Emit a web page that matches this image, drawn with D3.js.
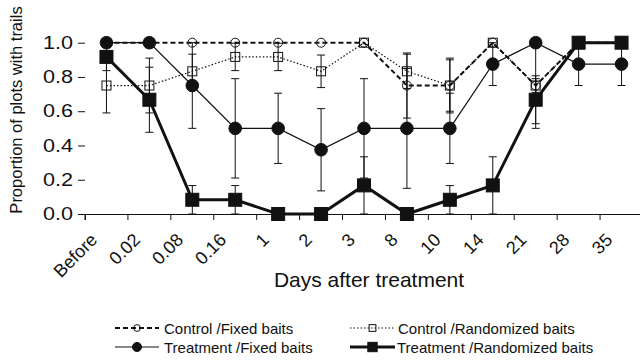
<html>
<head>
<meta charset="utf-8">
<title>Proportion of plots with trails</title>
<style>
  body { margin: 0; background: #fff; }
  svg text { font-family: "Liberation Sans", Arial, Helvetica, sans-serif; fill: #111; }
</style>
</head>
<body>
<div id="chart"></div>
<script src="https://d3js.org/d3.v7.min.js"></script>
<script>
// categories (days after treatment)
let categories = ["Before", "0.02", "0.08", "0.16", "1", "2", "3", "8", "10", "14", "21", "28", "35"];

// series means and error bars
let ctrlFixed    = [1, 1, 1, 1, 1, 1, 1, 0.75, 0.75, 1, 0.75, 1, 1];
let ctrlFixedErr = [0, 0, 0, 0, 0, 0, 0, 0.19, 0.16, 0, 0.25, 0, 0];
let ctrlRand     = [0.75, 0.75, 0.833, 0.917, 0.917, 0.833, 1, 0.833, 0.75, 1, 0.75, 1, 1];
let ctrlRandErr  = [0.16, 0.16, 0.1, 0.08, 0.08, 0.095, 0, 0.1, 0.15, 0, 0.04, 0, 0];
let trtFixed     = [1, 1, 0.75, 0.5, 0.5, 0.375, 0.5, 0.5, 0.5, 0.875, 1, 0.875, 0.875];
let trtFixedErr  = [0, 0, 0.25, 0.29, 0.205, 0.24, 0.29, 0.35, 0.205, 0.125, 0, 0.125, 0.125];
let trtRand      = [0.917, 0.667, 0.083, 0.083, 0, 0, 0.167, 0, 0.083, 0.167, 0.667, 1, 1];
let trtRandErr   = [0.08, 0.19, 0.083, 0.083, 0, 0, 0.167, 0, 0.083, 0.167, 0.14, 0, 0];

let yTicks = [0, 0.2, 0.4, 0.6, 0.8, 1.0];
let legendNames = ["Control /Fixed baits", "Control /Randomized baits", "Treatment /Fixed baits", "Treatment /Randomized baits"];

let series = [
  { name: legendNames[0], mean: ctrlFixed, err: ctrlFixedErr, shape: "circle", filled: false, r: 4.5, lw: 2, dash: "5,3" },
  { name: legendNames[1], mean: ctrlRand,  err: ctrlRandErr,  shape: "square", filled: false, r: 4.5, lw: 1.2, dash: "1.5,2" },
  { name: legendNames[2], mean: trtFixed,  err: trtFixedErr,  shape: "circle", filled: true,  r: 6.3, lw: 1.2, dash: null },
  { name: legendNames[3], mean: trtRand,   err: trtRandErr,   shape: "square", filled: true,  r: 6.5, lw: 3, dash: null }
];

let w = 640, h = 360;
let ink = "#111";

let svg = d3.select("#chart").append("svg")
    .attr("width", w)
    .attr("height", h);

let x = d3.scaleBand().domain(categories).range([85, 643]).paddingInner(0).paddingOuter(0);
let y = d3.scaleLinear().domain([0, 1]).range([214, 42.7]);
let bw = x.bandwidth();
let cx = function(i) { return x(categories[i]) + bw / 2; };

// x axis: ticks on band edges, rotated labels
let gx = svg.append("g")
    .attr("transform", "translate(0," + y(0) + ")")
    .call(d3.axisBottom(x).tickSizeOuter(0).tickSize(6));
gx.select(".domain").attr("stroke", ink);
gx.selectAll(".tick line").attr("x1", -bw / 2).attr("x2", -bw / 2).attr("stroke", ink);
gx.selectAll(".tick text")
    .attr("x", 0).attr("y", 0).attr("dy", 0)
    .attr("text-anchor", "end")
    .attr("transform", "translate(-8,27) rotate(-45)")
    .style("font-size", "18px");

// y axis: ticks only, no spine
let gy = svg.append("g")
    .attr("transform", "translate(85,0)")
    .call(d3.axisLeft(y).tickValues(yTicks).tickFormat(d3.format(".1f")).tickSize(7).tickPadding(5));
gy.select(".domain").remove();
gy.selectAll(".tick line").attr("stroke", ink);
// labels in the figure are a bit wide, stretch them
gy.selectAll(".tick text")
    .attr("x", 0)
    .attr("transform", "translate(-12,0) scale(1.2,1)")
    .style("font-size", "18px");

// axis titles
svg.append("text")
    .attr("transform", "translate(22,110) rotate(-90)")
    .attr("text-anchor", "middle")
    .style("font-size", "16.5px")
    .text("Proportion of plots with trails");

svg.append("text")
    .attr("x", 369).attr("y", 287)
    .attr("text-anchor", "middle")
    .style("font-size", "21px")
    .text("Days after treatment");

// draw a marker
function marker(g, s, px, py, scale) {
  let r = s.r * scale;
  if (s.shape === "circle") {
    g.append("circle").attr("cx", px).attr("cy", py).attr("r", r)
      .attr("fill", s.filled ? ink : "none").attr("stroke", ink).attr("stroke-width", 1);
  } else {
    g.append("rect").attr("x", px - r).attr("y", py - r).attr("width", 2 * r).attr("height", 2 * r)
      .attr("fill", s.filled ? ink : "none").attr("stroke", ink).attr("stroke-width", 1);
  }
}

let line = d3.line()
    .x(function(d, i) { return cx(i); })
    .y(function(d) { return y(d); });

series.forEach(function(s) {
  let g = svg.append("g");
  // error bars
  s.mean.forEach(function(m, i) {
    let e = s.err[i];
    if (!e) return;
    let lo = Math.max(0, m - e), hi = Math.min(1, m + e);
    let px = cx(i);
    g.append("line").attr("x1", px).attr("x2", px).attr("y1", y(lo)).attr("y2", y(hi))
      .attr("stroke", ink).attr("stroke-width", 1);
    [lo, hi].forEach(function(v) {
      g.append("line").attr("x1", px - 4).attr("x2", px + 4).attr("y1", y(v)).attr("y2", y(v))
        .attr("stroke", ink).attr("stroke-width", 1);
    });
  });
  g.append("path")
    .datum(s.mean)
    .attr("d", line)
    .attr("fill", "none")
    .attr("stroke", ink)
    .attr("stroke-width", s.lw)
    .attr("stroke-dasharray", s.dash);
  s.mean.forEach(function(m, i) { marker(g, s, cx(i), y(m), 1); });
});

// legend
let legendPos = [
  { x: 115, y: 328, tx: 164 },
  { x: 350, y: 328, tx: 398 },
  { x: 115, y: 347, tx: 164 },
  { x: 350, y: 347, tx: 397 }
];
series.forEach(function(s, i) {
  let p = legendPos[i];
  let g = svg.append("g");
  let len = i % 2 === 0 ? 44 : 45;
  g.append("line").attr("x1", p.x).attr("x2", p.x + len).attr("y1", p.y).attr("y2", p.y)
    .attr("stroke", ink).attr("stroke-width", s.lw)
    .attr("stroke-dasharray", s.dash);
  marker(g, s, p.x + len / 2, p.y, s.filled ? 0.72 : 0.75);
  g.append("text").attr("x", p.tx).attr("y", p.y + 5.5)
    .style("font-size", "15px")
    .text(s.name);
});
</script>
</body>
</html>
